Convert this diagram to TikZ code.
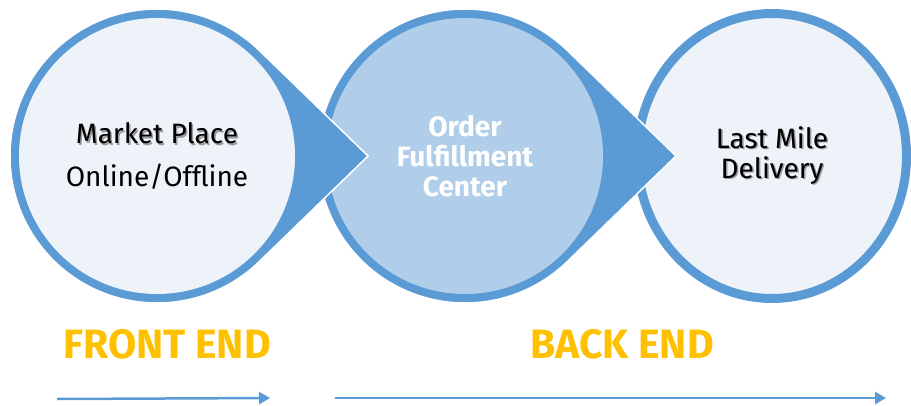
\documentclass[tikz,border=0pt]{standalone}
\usepackage{fontspec}
\setmainfont{Fira Sans}
\usetikzlibrary{calc,arrows.meta,shapes.geometric}
\definecolor{rim}{HTML}{5B9BD5}
\definecolor{pale}{HTML}{EEF3FA}
\definecolor{midblue}{HTML}{B0CEEA}
\definecolor{amber}{HTML}{FFC000}
\tikzset{drop/.style={fill=rim,draw=white,line width=1.5pt,line join=miter},
  stage/.style={circle,fill=pale,minimum size=276pt,inner sep=0,align=center,font=\fontsize{28}{30}\selectfont},
  part/.style={amber,font=\fontsize{41}{42}\selectfont\bfseries},
  flow/.style={rim,line width=2.5pt,-{Triangle[length=11pt,width=12pt]}}}
\newcommand\shtext[1]{\makebox[0pt][l]{\kern1.5pt\raisebox{-1.5pt}{\textcolor{black!40}{#1}}}#1}

\begin{document}
\begin{tikzpicture}[x=1pt,y=-1pt]

\useasboundingbox (0,0) rectangle (911,405);
\clip (0,0) rectangle (911,405);

% Centres and tips
\coordinate (c1) at (157,156);
\coordinate (c2) at (465,156);
\coordinate (c3) at (772,156);
\coordinate (t1) at ($(c1)+(211,0)$);
\coordinate (t2) at ($(c2)+(211,0)$);

% The stages, right to left so each tip lies over the next circle
\node[stage,ellipse,draw=rim,line width=9pt,minimum width=269pt,minimum height=285pt] (lmd) at (c3) {\shtext{Last Mile}\\\shtext{Delivery}};

\draw[drop] (t2) -- ($(c2)+(45.8:147)$) arc[start angle=45.8,end angle=314.2,radius=147] -- cycle;
\node[stage,fill=midblue,text=white,font=\fontsize{28}{30}\selectfont\bfseries] (ofc) at (c2) {Order\\Fulfillment\\Center};

\draw[drop] (t1) -- ($(c1)+(45.8:147)$) arc[start angle=45.8,end angle=314.2,radius=147] -- cycle;
\node[stage] (mp) at (c1) {\shtext{Market Place}\\[13pt]Online/Offline};

% The two ends
\node[part] (fe) at (167,344) {FRONT END};
\node[part] (be) at (622,344) {BACK END};

% The flow arrows
\coordinate (fe-a) at (57,399);
\coordinate (fe-b) at (270,398);
\coordinate (be-a) at (335,398);
\coordinate (be-b) at (886,398);
\draw[flow] (fe-a) -- (fe-b);
\draw[flow] (be-a) -- (be-b);

\end{tikzpicture}
\end{document}
